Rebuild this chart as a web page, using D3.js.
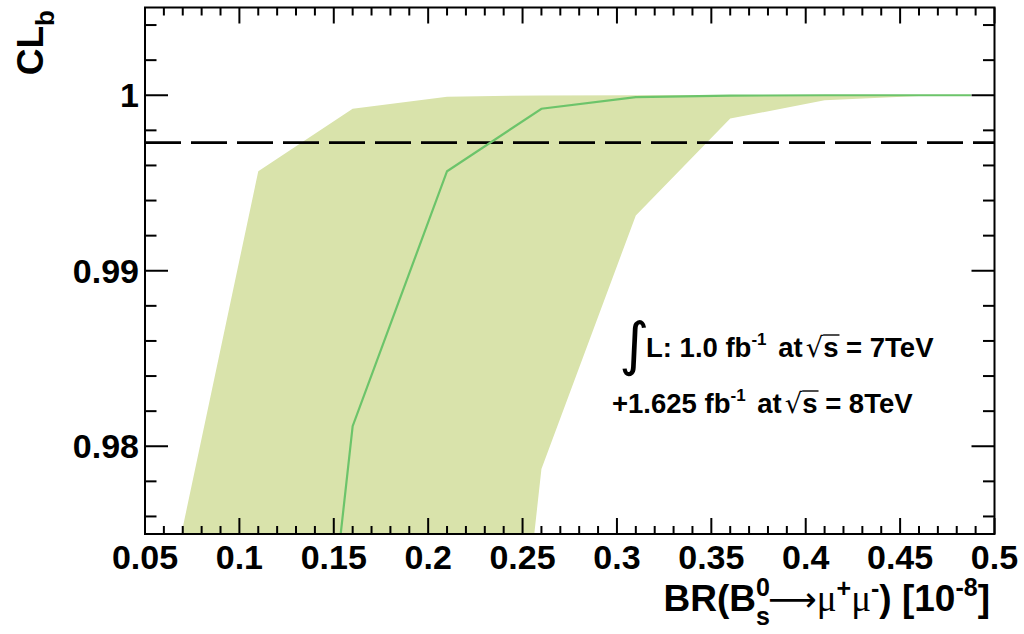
<!DOCTYPE html>
<html><head><meta charset="utf-8">
<script src="https://cdn.jsdelivr.net/npm/d3@7"></script>
<style>html,body{margin:0;padding:0;background:#fff;}svg{display:block;}</style>
</head><body>
<svg id="c" width="1024" height="634"></svg>
<script>
// ---- data ----
const bandX     = [0.06, 0.11, 0.16, 0.21, 0.26, 0.31, 0.36, 0.41, 0.46, 0.4875];
const bandUpper = [0.9703, 0.99567, 0.99923, 0.99992, 0.99999, 1.0, 1.0, 1.0, 1.0, 1.0];
const bandLower = [0.90, 0.90, 0.90, 0.9298, 0.97871, 0.99315, 0.99867, 0.99972, 0.99996, 1.0];
const medianX   = [0.11, 0.16, 0.21, 0.26, 0.31, 0.36, 0.41, 0.46, 0.4875];
const medianY   = [0.93268, 0.98114, 0.99567, 0.99923, 0.99989, 0.99998, 1.0, 1.0, 1.0];
const threshold = 0.9973;
const xTicks = [0.05,0.1,0.15,0.2,0.25,0.3,0.35,0.4,0.45,0.5];
const xTickLabels = ["0.05","0.1","0.15","0.2","0.25","0.3","0.35","0.4","0.45","0.5"];
const yTicks = [0.98,0.99,1.0];
const yTickLabels = ["0.98","0.99","1"];

const svg = d3.select("#c");
const L=145, R=994.5, T=7.5, B=534;
const x = d3.scaleLinear().domain([0.05,0.5]).range([L,R]);
const y = d3.scaleLinear().domain([0.975,1.005]).range([B,T]);
const FONT = "'Liberation Sans', Arial, Helvetica, sans-serif";

svg.append("defs").append("clipPath").attr("id","clip")
  .append("rect").attr("x",L).attr("y",T).attr("width",R-L).attr("height",B-T);
const g = svg.append("g").attr("clip-path","url(#clip)");

const idx = d3.range(bandX.length);
g.append("path")
  .attr("d", d3.area().x(i=>x(bandX[i])).y0(i=>y(bandLower[i])).y1(i=>y(bandUpper[i]))(idx))
  .attr("fill","#d9e3ab");

g.append("line").attr("x1",L).attr("x2",R).attr("y1",y(threshold)).attr("y2",y(threshold))
  .attr("stroke","#000").attr("stroke-width",2.6).attr("stroke-dasharray","36,10");

g.append("path")
  .attr("d", d3.line().x(i=>x(medianX[i])).y(i=>y(medianY[i]))(d3.range(medianX.length)))
  .attr("fill","none").attr("stroke","#6cc46a").attr("stroke-width",2.2);

// frame
svg.append("rect").attr("x",L).attr("y",T).attr("width",R-L).attr("height",B-T)
  .attr("fill","none").attr("stroke","#000").attr("stroke-width",2);

// ticks
const xMinor = d3.range(0.05,0.5001,0.01);
const yMinor = d3.range(0.976,1.0049,0.002);
const isMajor = (v,arr)=>arr.some(a=>Math.abs(a-v)<1e-6);
const tk = svg.append("g").attr("stroke","#000").attr("stroke-width",2);
xMinor.forEach(v=>{
  const len = isMajor(v,xTicks)?16:8;
  tk.append("line").attr("x1",x(v)).attr("x2",x(v)).attr("y1",B).attr("y2",B-len);
  tk.append("line").attr("x1",x(v)).attr("x2",x(v)).attr("y1",T).attr("y2",T+len);
});
yMinor.forEach(v=>{
  const len = isMajor(v,yTicks)?23:11.5;
  tk.append("line").attr("y1",y(v)).attr("y2",y(v)).attr("x1",L).attr("x2",L+len);
  tk.append("line").attr("y1",y(v)).attr("y2",y(v)).attr("x1",R).attr("x2",R-len);
});

// tick labels
svg.append("g").selectAll("text").data(xTicks).join("text")
  .attr("x",d=>x(d)).attr("y",569).attr("text-anchor","middle")
  .attr("font-family",FONT).attr("font-weight","bold").attr("font-size",34)
  .text((d,i)=>xTickLabels[i]);
svg.append("g").selectAll("text").data(yTicks).join("text")
  .attr("x",139).attr("y",d=>y(d)+12).attr("text-anchor","end")
  .attr("font-family",FONT).attr("font-weight","bold").attr("font-size",34)
  .text((d,i)=>yTickLabels[i]);

// x title
const xt = svg.append("text").attr("x",990).attr("y",611).attr("text-anchor","end")
  .attr("font-family",FONT).attr("font-weight","bold").attr("font-size",37);
xt.append("tspan").text("BR(B");
const t0 = xt.append("tspan").attr("font-size",25).attr("dy",-15).text("0");
const ts = xt.append("tspan").attr("font-size",25).attr("dy",29).text("s");
xt.append("tspan").attr("dy",-14).attr("dx",-2).attr("font-family","'DejaVu Sans', sans-serif").attr("font-weight","normal").attr("font-size",34).text("\u27f6");
xt.append("tspan").attr("font-family","'Liberation Serif', serif").attr("font-weight","normal").text("\u03bc");
xt.append("tspan").attr("font-size",25).attr("dy",-14).text("+");
xt.append("tspan").attr("dy",14).attr("font-family","'Liberation Serif', serif").attr("font-weight","normal").text("\u03bc");
xt.append("tspan").attr("font-size",25).attr("dy",-14).text("-");
xt.append("tspan").attr("dy",14).text(") [10");
xt.append("tspan").attr("font-size",25).attr("dy",-15).text("-8");
xt.append("tspan").attr("dy",15).text("]");
ts.attr("dx", -t0.node().getComputedTextLength());

// y title
const yt = svg.append("text").attr("transform","translate(43,10) rotate(-90)").attr("text-anchor","end")
  .attr("font-family",FONT).attr("font-weight","bold").attr("font-size",37);
yt.append("tspan").text("CL");
yt.append("tspan").attr("font-size",26).attr("dy",11).text("b");

// annotation
svg.append("text").attr("x",619).attr("y",364)
  .attr("font-family","'DejaVu Sans', sans-serif").attr("font-size",58).text("\u222b");
function lumi(xx,yy,parts){
  const t = svg.append("text").attr("x",xx).attr("y",yy)
    .attr("font-family",FONT).attr("font-weight","bold").attr("font-size",27.5);
  t.append("tspan").text(parts[0]);
  t.append("tspan").attr("font-size",17).attr("dy",-12).text("-1");
  t.append("tspan").attr("dy",12).attr("dx",4).text(" at");
  t.append("tspan").attr("font-family","'DejaVu Sans', sans-serif").attr("font-weight","normal").attr("dx",3).text("\u221a");
  const s = t.append("tspan").text("s");
  t.append("tspan").text(parts[1]);
  const bb = s.node().getExtentOfChar(0);
  svg.append("line").attr("x1",bb.x).attr("x2",bb.x+bb.width+1).attr("y1",yy-22).attr("y2",yy-22)
    .attr("stroke","#000").attr("stroke-width",1.4);
}
lumi(646,357,["L: 1.0 fb"," = 7TeV"]);
lumi(612,413,["+1.625 fb"," = 8TeV"]);
</script>
</body></html>
